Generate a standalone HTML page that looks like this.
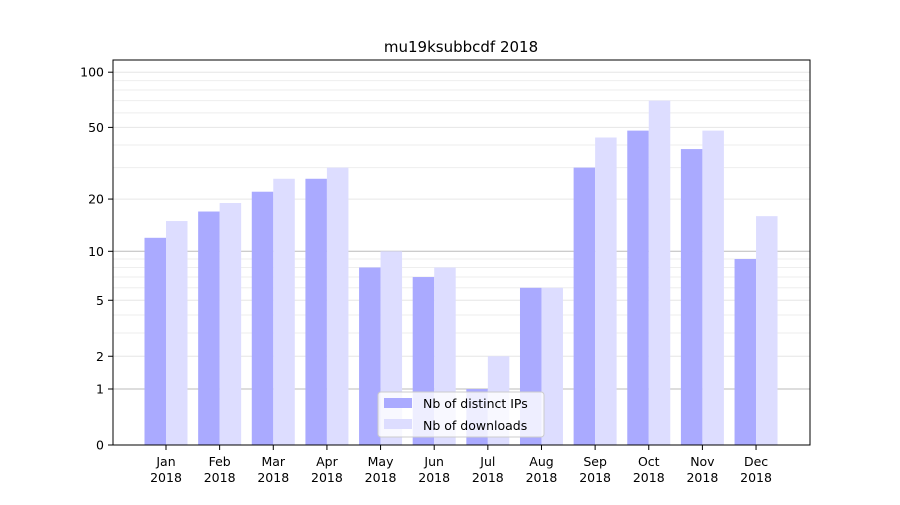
<!DOCTYPE html>
<html><head><meta charset="utf-8"><style>
body{margin:0;background:#fff;}
svg text{font-family:"DejaVu Sans","Liberation Sans",sans-serif;}
</style></head><body>
<svg id="chart" width="900" height="500" viewBox="0 0 900 500">
<rect width="900" height="500" fill="#fff"/>
<text x="461" y="52" font-size="15" text-anchor="middle">mu19ksubbcdf 2018</text>
<g id="grid"></g>
<g id="bars"></g>
<rect x="113" y="60" width="697" height="385" fill="none" stroke="#000" stroke-width="1"/>
<g id="yaxis"></g>
<g id="xaxis"></g>
<g>
<rect x="378" y="392" width="166" height="45" rx="3" fill="#fff" fill-opacity="0.8" stroke="#ccc"/>
<rect x="384" y="398" width="28" height="10" fill="#aaaaff"/>
<text x="423" y="408" font-size="12.5">Nb of distinct IPs</text>
<rect x="384" y="419" width="28" height="10" fill="#ddddff"/>
<text x="423" y="430" font-size="12.5">Nb of downloads</text>
</g>
</svg>
<script>
const months = ["Jan","Feb","Mar","Apr","May","Jun","Jul","Aug","Sep","Oct","Nov","Dec"];
const ipValues = [12,17,22,26,8,7,1,6,30,48,38,9];
const downloadValues = [15,19,26,30,10,8,2,6,44,70,48,16];
const yTicks = [0,1,2,5,10,20,50,100];
const minorTicks = [3,4,6,7,8,9,30,40,60,70,80,90];
const NS="http://www.w3.org/2000/svg";
function yScale(v){return 445-186*Math.log10(1+v);}
function xCenter(i){return 166+i*53.64;}
const bw=21.5;
function mk(tag,attrs,parent){const e=document.createElementNS(NS,tag);for(const k in attrs)e.setAttribute(k,attrs[k]);parent.appendChild(e);return e;}
const grid=document.getElementById('grid'),bars=document.getElementById('bars'),ya=document.getElementById('yaxis'),xa=document.getElementById('xaxis');
minorTicks.forEach(v=>{const l=mk('line',{x1:113,x2:810,y1:yScale(v),y2:yScale(v),stroke:'#eee','stroke-width':1},grid);

});
yTicks.forEach(v=>{const y=yScale(v);
const l=mk('line',{x1:113,x2:810,y1:y,y2:y,stroke:(v==1||v==10)?'#bbb':'#e6e6e6','stroke-width':1},grid);


mk('line',{x1:108,x2:113,y1:y,y2:y,stroke:'#000'},ya);
const t=mk('text',{x:104,y:y+4.5,'font-size':12.5,'text-anchor':'end'},ya);t.textContent=v;

});
months.forEach((m,i)=>{const c=xCenter(i);
const b1=mk('rect',{x:c-bw,y:yScale(ipValues[i]),width:bw,height:445-yScale(ipValues[i]),fill:'#aaaaff'},bars);


const b2=mk('rect',{x:c,y:yScale(downloadValues[i]),width:bw,height:445-yScale(downloadValues[i]),fill:'#ddddff'},bars);


mk('line',{x1:c,x2:c,y1:445,y2:450,stroke:'#000'},xa);
const t=mk('text',{x:c,y:466,'font-size':12.5,'text-anchor':'middle'},xa);t.textContent=m;


const t2=mk('text',{x:c,y:482,'font-size':12.5,'text-anchor':'middle'},xa);t2.textContent='2018';

});
</script>
</body></html>
